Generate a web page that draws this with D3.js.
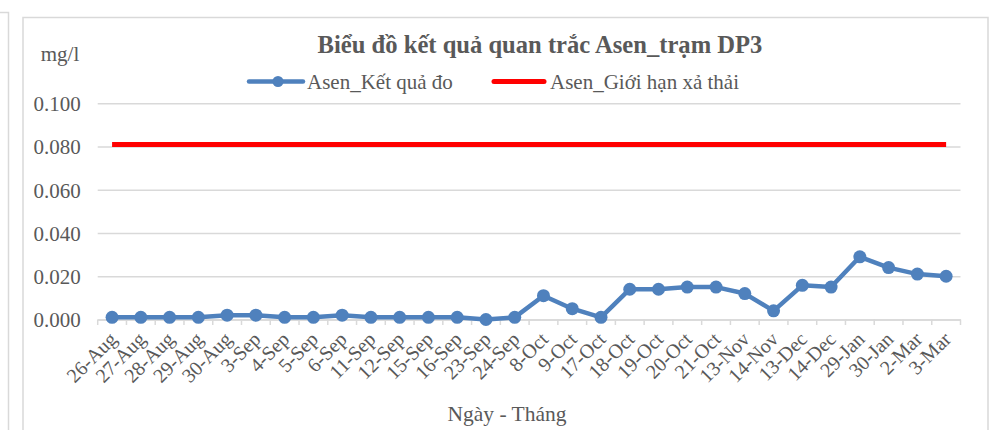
<!DOCTYPE html>
<html><head><meta charset="utf-8">
<script src="https://cdn.jsdelivr.net/npm/d3@7"></script>
<style>
html,body{margin:0;padding:0;background:#fff;}
svg{display:block;}
svg text{font-family:"Liberation Serif","Times New Roman",serif !important;}
</style></head>
<body>
<svg id="c" width="1008" height="430"></svg>
<script>
const categories = ["26-Aug","27-Aug","28-Aug","29-Aug","30-Aug","3-Sep","4-Sep","5-Sep","6-Sep","11-Sep","12-Sep","15-Sep","16-Sep","23-Sep","24-Sep","8-Oct","9-Oct","17-Oct","18-Oct","19-Oct","20-Oct","21-Oct","13-Nov","14-Nov","13-Dec","14-Dec","29-Jan","30-Jan","2-Mar","3-Mar"];
const measured = [0.001,0.001,0.001,0.001,0.002,0.002,0.001,0.001,0.002,0.001,0.001,0.001,0.001,0.000,0.001,0.011,0.005,0.001,0.014,0.014,0.015,0.015,0.012,0.004,0.0158,0.015,0.029,0.024,0.021,0.020];
const limit = categories.map(() => 0.081);
const yTicks = [0,0.02,0.04,0.06,0.08,0.1];
const seriesNames = ["Asen_Kết quả đo","Asen_Giới hạn xả thải"];
const title = "Biểu đồ kết quả quan trắc Asen_trạm DP3";
const yTitle = "mg/l";
const xTitle = "Ngày - Tháng";

const svg = d3.select("#c");
const grey = "#d9d9d9", txt = "#595959", blue = "#4f81bd", red = "#ff0000";

// frames
svg.append("path").attr("d","M0,12.5H8.5V430").attr("fill","none").attr("stroke",grey).attr("stroke-width",1.5);
svg.append("path").attr("d","M23,430V17.5H988V430").attr("fill","none").attr("stroke",grey).attr("stroke-width",1.5);

const x = d3.scaleBand().domain(categories).range([97.7,960.5]);
const y = d3.scaleLinear().domain([0,0.1]).range([319.5,103.3]);

// gridlines
const yAxis = d3.axisLeft(y).tickValues(yTicks).tickFormat(d3.format(".3f")).tickSize(-(960.5-97.7)).tickPadding(17);
const gy = svg.append("g").attr("transform","translate(97.7,0)").call(yAxis);
gy.select(".domain").remove();
gy.selectAll(".tick line").attr("stroke",grey).attr("stroke-width",1.5);
gy.selectAll(".tick text").attr("fill",txt).attr("font-size",21).attr("dy","0.35em");

// x axis
const xAxis = d3.axisBottom(x).tickSize(0).tickFormat(d=>d);
const gx = svg.append("g").attr("transform","translate(0,319.5)").call(xAxis);
gx.select(".domain").attr("stroke",grey).attr("stroke-width",1.5);
const edges = categories.map(c=>x(c)).concat([x.range()[1]]);
svg.append("g").selectAll("line").data(edges).join("line")
  .attr("x1",d=>d).attr("x2",d=>d).attr("y1",319.5).attr("y2",325).attr("stroke",grey).attr("stroke-width",1.5);
gx.selectAll(".tick text").attr("fill",txt).attr("font-size",20)
  .attr("text-anchor","end").attr("dy",null).attr("y",0)
  .attr("transform","translate(6,21) rotate(-45)");

// limit line
const lineGen = d3.line().x((d,i)=>x(categories[i])+x.bandwidth()/2).y(d=>y(d));
svg.append("path").datum(limit).attr("d",lineGen).attr("fill","none").attr("stroke",red).attr("stroke-width",5);

// measured line
svg.append("path").datum(measured).attr("d",lineGen).attr("fill","none").attr("stroke",blue).attr("stroke-width",4.5).attr("stroke-linejoin","round");
svg.append("g").selectAll("circle").data(measured).join("circle")
  .attr("cx",(d,i)=>x(categories[i])+x.bandwidth()/2).attr("cy",d=>y(d)).attr("r",6.5).attr("fill",blue);

// title
svg.append("text").attr("x",540).attr("y",53).attr("text-anchor","middle").attr("font-weight","bold").attr("font-size",24.6).attr("fill",txt).text(title);
svg.append("text").attr("x",60).attr("y",61).attr("text-anchor","middle").attr("font-size",21).attr("fill",txt).text(yTitle);
svg.append("text").attr("x",507).attr("y",421).attr("text-anchor","middle").attr("font-size",21.5).attr("fill",txt).text(xTitle);

// legend
const lg = svg.append("g");
lg.append("line").attr("x1",249).attr("x2",303).attr("y1",81.5).attr("y2",81.5).attr("stroke",blue).attr("stroke-width",4.5).attr("stroke-linecap","round");
lg.append("circle").attr("cx",278).attr("cy",81.5).attr("r",5.5).attr("fill",blue);
lg.append("text").attr("x",307).attr("y",89).attr("font-size",21).attr("fill",txt).text(seriesNames[0]);
lg.append("line").attr("x1",494).attr("x2",544).attr("y1",81.5).attr("y2",81.5).attr("stroke",red).attr("stroke-width",5).attr("stroke-linecap","round");
lg.append("text").attr("x",550).attr("y",89).attr("font-size",21).attr("fill",txt).text(seriesNames[1]);
</script>
</body></html>
